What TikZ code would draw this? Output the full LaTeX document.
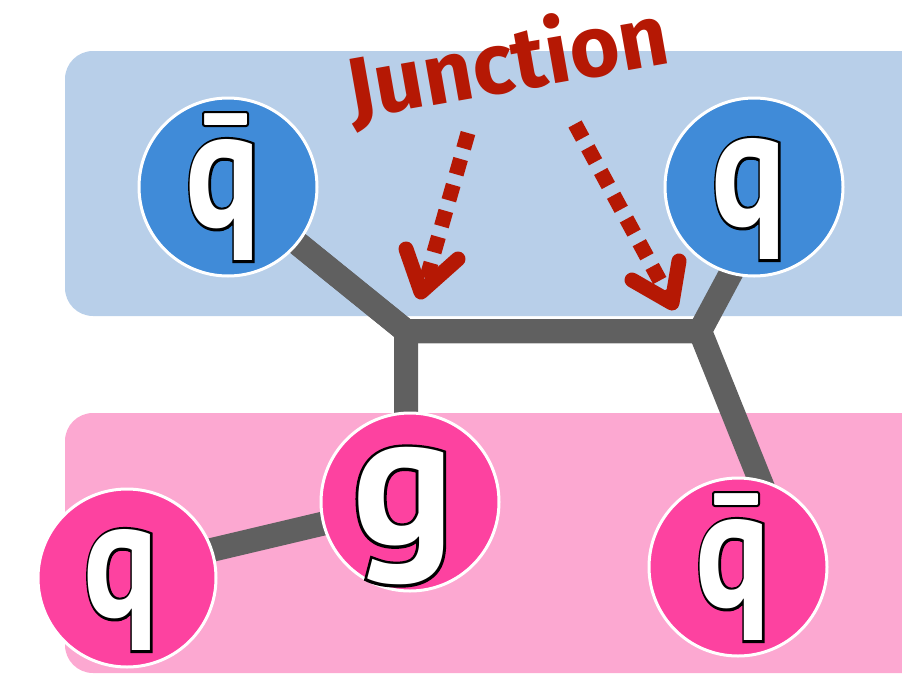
\documentclass[tikz,border=0pt]{standalone}
\usepackage{fontspec}
\usepackage{graphicx}
\setmainfont{Fira Sans}
\newfontfamily\glyphfill{PT Sans}
\newfontfamily\glyphedge{PT Sans}[BoldFeatures={FakeBold=3.0}]
\usetikzlibrary{calc}

\definecolor{bandblue}{RGB}{184,207,233}
\definecolor{ballblue}{RGB}{64,139,216}
\definecolor{bandpink}{RGB}{252,168,209}
\definecolor{ballpink}{RGB}{253,66,160}
\definecolor{stringgray}{RGB}{96,96,96}
\definecolor{labelred}{RGB}{181,24,4}

% white letter with a thin black outline, squeezed horizontally by #1
\newcommand\quarkglyph[2][0.82]{\scalebox{#1}[1]{\rlap{\color{black}\glyphedge\bfseries #2}{\color{white}\glyphfill\bfseries #2}}}

\begin{document}
\begin{tikzpicture}[x=1pt,y=-1pt,
  band/.style={rounded corners=28pt},
  ball/.style={circle, minimum size=178pt, inner sep=0pt, draw=white, line width=3pt},
  glyph/.style={inner sep=0pt, font=\fontsize{170}{170}\selectfont},
  bigglyph/.style={inner sep=0pt, font=\fontsize{190}{190}\selectfont},
  antibar/.style={draw=black, fill=white, line width=2pt, rounded corners=2pt},
  string/.style={stringgray, line width=24pt, line join=miter},
  hint/.style={labelred, line width=15pt, dash pattern=on 16pt off 11pt},
  hinthead/.style={labelred, line width=15pt, line cap=round, line join=round}]

\useasboundingbox (0,0) rectangle (902,675);
\clip (0,0) rectangle (902,675);

% colour bands
\fill[bandblue, band] (65,51) rectangle (940,316);
\fill[bandpink, band] (65,413) rectangle (940,673);

% string junctions and string ends hidden under the balls
\coordinate (J1) at (406,331);
\coordinate (J2) at (700,331);
\coordinate (endQbL) at (228,187);
\coordinate (endG) at (406,480);
\coordinate (endQR) at (760,219);
\coordinate (endQbR) at (776,520);
\coordinate (endQL) at (127,570);
\coordinate (endGL) at (410,503);

% strings
\draw[string] (endQbL) -- (J1) -- (J2);
\draw[string] (endQbL) -- (J1) -- (endG);
\draw[string] (J1) -- (J2) -- (endQR);
\draw[string] (J1) -- (J2) -- (endQbR);
\draw[string] (endQL) -- (endGL);

% balls
\node[ball, fill=ballblue] (qbarL) at (228,187) {};
\node[ball, fill=ballblue] (qR) at (754,187) {};
\node[ball, fill=ballpink] (gl) at (410,502) {};
\node[ball, fill=ballpink] (qL) at (127,578) {};
\node[ball, fill=ballpink] (qbarR) at (738,567) {};

% letters
\node[glyph] (qbarLtxt) at ($(qbarL)+(-5,13)$) {\quarkglyph{q}};
\node[glyph] (qRtxt) at ($(qR)+(-5,12)$) {\quarkglyph{q}};
\node[bigglyph] (gltxt) at ($(gl)+(-7,14)$) {\quarkglyph[1]{g}};
\node[glyph] (qLtxt) at ($(qL)+(-6,12)$) {\quarkglyph{q}};
\node[glyph] (qbarRtxt) at ($(qbarR)+(-5,13)$) {\quarkglyph{q}};

% antiquark bars
\draw[antibar] ($(qbarL)+(-25,-75)$) rectangle ($(qbarL)+(20,-61)$);
\draw[antibar] ($(qbarR)+(-25,-75)$) rectangle ($(qbarR)+(21,-61)$);

% label and dotted pointers
\node[labelred, rotate=10, inner sep=0pt, font=\fontsize{86}{86}\selectfont\bfseries] (jlabel) at (508,64) {Junction};

\coordinate (la0) at (468,133);
\coordinate (la1) at (425,284);
\coordinate (lt) at (421,292);
\draw[hint] (la0) -- (la1);
\draw[hinthead] (406,249) -- (lt) -- (458,259);

\coordinate (ra0) at (575,124);
\coordinate (ra1) at (666,292);
\coordinate (rt) at (672,303);
\draw[hint] (ra0) -- (ra1);
\draw[hinthead] (632,280) -- (rt) -- (679,261);
\end{tikzpicture}
\end{document}
